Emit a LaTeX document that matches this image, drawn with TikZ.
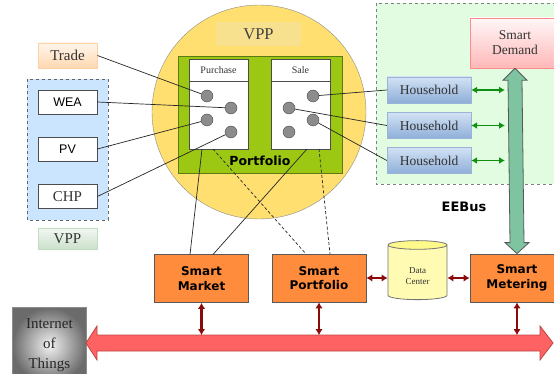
\documentclass[tikz,border=0pt]{standalone}
\usepackage{fontspec}
\setmainfont{Liberation Serif}
\newfontfamily\vsans{DejaVu Sans}
\newfontfamily\asans{Liberation Sans}
\usetikzlibrary{shapes.geometric,arrows.meta,calc}
\definecolor{txt}{HTML}{333333}
\definecolor{bluereg}{HTML}{CCE5FF}
\definecolor{greenreg}{HTML}{E2FCE2}
\definecolor{vppyel}{HTML}{FFDF70}
\definecolor{vpplab}{HTML}{F7E08E}
\definecolor{portgreen}{HTML}{9CC814}
\definecolor{portborder}{HTML}{5C7A12}
\definecolor{smartor}{HTML}{FF8C3C}
\definecolor{darkred}{HTML}{8B0A0A}
\definecolor{busred}{HTML}{FF6262}
\definecolor{busborder}{HTML}{C04444}
\definecolor{eegreen}{HTML}{7FC4A0}
\definecolor{hhtop}{HTML}{D2E2F4}
\definecolor{hhbot}{HTML}{8EAED8}
\definecolor{hhborder}{HTML}{9AB4D8}
\definecolor{arrgreen}{HTML}{109010}
\begin{document}
\begin{tikzpicture}[x=1pt,y=-1pt,
  serif/.style={font=\fontsize{15}{18}\selectfont, text=txt},
  whitebox/.style={draw=black!70, fill=white, line width=0.8pt, minimum width=59pt, minimum height=24pt, inner sep=0pt},
  smartbox/.style={draw=black!65, fill=smartor, line width=0.8pt, minimum width=94pt, minimum height=48pt, inner sep=0pt, align=center, font=\vsans\bfseries\fontsize{12}{14.5}\selectfont},
  hhbox/.style={draw=hhborder, top color=hhtop, bottom color=hhbot, minimum width=84pt, minimum height=26pt, inner sep=0pt, font=\fontsize{13.5}{16}\selectfont, text=txt},
  dot/.style={circle, draw=black!70, fill=black!45, minimum size=12pt, inner sep=0pt},
  link/.style={draw=black!85, line width=0.7pt},
  dlink/.style={draw=black!85, line width=0.7pt, dash pattern=on 3pt off 2.2pt},
  redarr/.style={draw=darkred, line width=2.2pt, {Latex[length=6pt,width=7.5pt]}-{Latex[length=6pt,width=7.5pt]}},
  grnarr/.style={draw=arrgreen, line width=1.8pt, {Latex[length=6pt,width=7pt]}-{Latex[length=6pt,width=7pt]}},
]
\useasboundingbox (0,0) rectangle (554,374);
\clip (0,0) rectangle (554,374);
\fill[white] (0,0) rectangle (554,374);

% regions
\draw[fill=bluereg, draw=black!60, dashed, line width=0.8pt] (27,79) rectangle (108,220);
\draw[fill=greenreg, draw=black!50, dashed, line width=0.8pt] (376,3) rectangle (570,184);

% VPP circle
\node[circle, draw=black!45, fill=vppyel, minimum size=214pt, inner sep=0pt] (vpp) at (259,112) {};
\node[fill=vpplab, minimum width=85pt, minimum height=24pt, inner sep=0pt, font=\fontsize{16.5}{18}\selectfont, text=black!75] (vpplabel) at (258.5,34) {VPP};
\node[draw=portborder, fill=portgreen, line width=0.9pt, minimum width=164pt, minimum height=117pt, inner sep=0pt] (port) at (260,114.5) {};
\node[font=\vsans\bfseries\fontsize{12.5}{15}\selectfont] (porttxt) at (260,161) {Portfolio};

% purchase / sale
\node[draw=black!70, fill=white, line width=0.8pt, minimum width=59pt, minimum height=22pt, inner sep=0pt, font=\fontsize{10}{12}\selectfont, text=txt] (purh) at (218.5,70) {Purchase};
\node[draw=black!70, fill=white, line width=0.8pt, minimum width=59pt, minimum height=68pt, inner sep=0pt, anchor=north] (purb) at (purh.south) {};
\node[draw=black!70, fill=white, line width=0.8pt, minimum width=59pt, minimum height=22pt, inner sep=0pt, font=\fontsize{10}{12}\selectfont, text=txt] (saleh) at (300.5,70) {Sale};
\node[draw=black!70, fill=white, line width=0.8pt, minimum width=59pt, minimum height=68pt, inner sep=0pt, anchor=north] (saleb) at (saleh.south) {};

\node[dot] (p1) at (207,96) {};
\node[dot] (p2) at (231,108) {};
\node[dot] (p3) at (207,120) {};
\node[dot] (p4) at (231,132) {};
\node[dot] (s1) at (313,96) {};
\node[dot] (s2) at (289,108) {};
\node[dot] (s3) at (313,120) {};
\node[dot] (s4) at (289,132) {};

% left boxes
\node[draw=orange!35, top color=orange!8, bottom color=orange!30, line width=0.8pt, minimum width=59pt, minimum height=25pt, inner sep=0pt, serif] (trade) at (67.5,55.5) {Trade};
\node[whitebox, font=\asans\fontsize{12.5}{15}\selectfont] (wea) at (67.5,102) {WEA};
\node[whitebox, font=\asans\fontsize{12.5}{15}\selectfont] (pv) at (67.5,149) {PV};
\node[whitebox, serif] (chp) at (67.5,196.5) {CHP};
\node[draw=green!50!black!25, top color=green!30!black!5, bottom color=green!40!black!20, minimum width=59pt, minimum height=21pt, inner sep=0pt, serif] (vppl) at (67.5,238.5) {VPP};

% links into portfolio
\draw[link] (trade.east) -- (p1);
\draw[link] (wea.east) -- (p2);
\draw[link] (pv.east) -- (p3);
\draw[link] (chp.east) -- (p4);

% EEBus side
\node[draw=red!45, top color=red!3, bottom color=red!28, minimum width=90pt, minimum height=50pt, inner sep=0pt, align=center, font=\fontsize{13.5}{15}\selectfont, text=txt] (dem) at (515,43) {Smart\\Demand};
\node[hhbox] (h1) at (429,90) {Household};
\node[hhbox] (h2) at (429,125.5) {Household};
\node[hhbox] (h3) at (429,160.5) {Household};
\coordinate (g1) at (505,90);
\coordinate (g2) at (505,125.5);
\coordinate (g3) at (505,160.5);
\draw[grnarr] (h1.east) -- (g1);
\draw[grnarr] (h2.east) -- (g2);
\draw[grnarr] (h3.east) -- (g3);
\draw[link] (h1.west) -- (s1);
\draw[link] (h2.west) -- (s2);
\draw[link] (h3.west) -- (s3);
\node[font=\vsans\bfseries\fontsize{13}{15}\selectfont] (eebus) at (464,207) {EEBus};

% smart boxes
\node[smartbox] (mkt) at (201.5,278.5) {Smart\\Market};
\node[smartbox] (spf) at (319,278) {Smart\\Portfolio};
\node[smartbox] (met) at (517,278) {Smart\\Metering};
\node[cylinder, shape border rotate=90, aspect=0.36, draw=black!55, line width=0.8pt, cylinder uses custom fill, cylinder body fill=yellow!30, cylinder end fill=yellow!45, minimum width=59pt, minimum height=59pt, inner sep=0pt, align=center, font=\fontsize{9}{11}\selectfont, text=txt] (dc) at (417.5,272.5) {\\[2pt]Data\\Center};

% portfolio to smart boxes
\coordinate (pb1) at (202,149);
\coordinate (pb2) at (213,149);
\coordinate (sb1) at (307,149);
\coordinate (sb2) at (319,149);
\coordinate (m1) at (190,254.5);
\coordinate (m2) at (213,254.5);
\coordinate (q1) at (306,254);
\coordinate (q2) at (330,254);
\draw[link] (pb1) -- (m1);
\draw[link] (sb1) -- (m2);
\draw[dlink] (pb2) -- (q1);
\draw[dlink] (sb2) -- (q2);

% big green arrow
\draw[fill=eegreen, draw=black!65, line width=0.8pt]
  (dem.south) -- ++(12,12) -- ++(-5,0) -- ($(met.north)+(7,-11)$) -- ++(5,0) -- (met.north)
  -- ++(-12,-11) -- ++(5,0) -- ($(dem.south)+(-7,12)$) -- ++(-5,0) -- cycle;

% Internet of things
\node[draw=black!45, line width=0.8pt, shading=radial, inner color=black!5, outer color=black!58, minimum width=74pt, minimum height=76pt, inner sep=0pt, align=center, font=\fontsize{15}{20}\selectfont, text=black!85, anchor=north west] (iot) at (12,307) {Internet\\of\\Things};

% bus arrow
\coordinate (busL) at (86,343);
\coordinate (busR) at (553,343);
\draw[fill=busred, draw=busborder, line width=0.8pt]
  (busL) -- ++(11,-17) -- ++(0,9) -- ($(busR)+(-13,-8)$) -- ++(0,-9) -- (busR)
  -- ++(-13,17) -- ++(0,-9) -- ($(busL)+(11,8)$) -- ++(0,9) -- cycle;
\coordinate (bustop) at (0,335);

% red arrows
\draw[redarr] (mkt.south) -- (mkt.south |- bustop);
\draw[redarr] (spf.south) -- (spf.south |- bustop);
\draw[redarr] (met.south) -- (met.south |- bustop);
\draw[redarr] (spf.east) -- (spf.east -| dc.west);
\draw[redarr] (dc.east |- met.west) -- (met.west);
\end{tikzpicture}
\end{document}
